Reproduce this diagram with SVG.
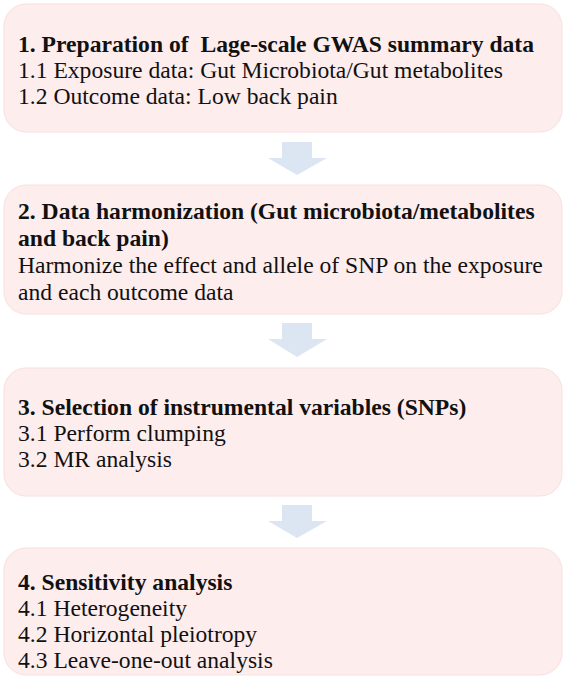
<svg xmlns="http://www.w3.org/2000/svg" width="567" height="682" viewBox="0 0 567 682">
<style>
.box{fill:#fdeded;stroke:#f7e0e0;stroke-width:1}
.arr{fill:#dce6f2}
text{font-family:"Liberation Serif","Times New Roman",serif;font-size:23.6px;fill:#111;white-space:pre}
.b{font-weight:bold}
</style>
<rect width="567" height="682" fill="#ffffff"/>
<g id="connectors">
<path class="arr" d="M282,142 H312 V158 H327 L297,175 L268,158 H282 Z"/>
<path class="arr" d="M282,323 H312 V339 H327 L297,357 L268,339 H282 Z"/>
<path class="arr" d="M282,505 H312 V521 H327 L297,538 L268,521 H282 Z"/>
</g>
<g id="node1">
<rect class="box" x="4" y="4" width="558" height="128" rx="22"/>
<text class="b" x="18" y="52" xml:space="preserve">1. Preparation of  Lage-scale GWAS summary data</text>
<text x="18" y="78">1.1 Exposure data: Gut Microbiota/Gut metabolites</text>
<text x="18" y="104">1.2 Outcome data: Low back pain</text>
</g>
<g id="node2">
<rect class="box" x="4" y="185" width="558" height="129" rx="22"/>
<text class="b" x="18" y="219">2. Data harmonization (Gut microbiota/metabolites</text>
<text class="b" x="18" y="246">and back pain)</text>
<text x="18" y="273">Harmonize the effect and allele of SNP on the exposure</text>
<text x="18" y="300">and each outcome data</text>
</g>
<g id="node3">
<rect class="box" x="4" y="368" width="558" height="128" rx="22"/>
<text class="b" x="18" y="415">3. Selection of instrumental variables (SNPs)</text>
<text x="18" y="441">3.1 Perform clumping</text>
<text x="18" y="467">3.2 MR analysis</text>
</g>
<g id="node4">
<rect class="box" x="4" y="548" width="558" height="127" rx="22"/>
<text class="b" x="18" y="590">4. Sensitivity analysis</text>
<text x="18" y="616">4.1 Heterogeneity</text>
<text x="18" y="642">4.2 Horizontal pleiotropy</text>
<text x="18" y="668">4.3 Leave-one-out analysis</text>
</g>
</svg>
